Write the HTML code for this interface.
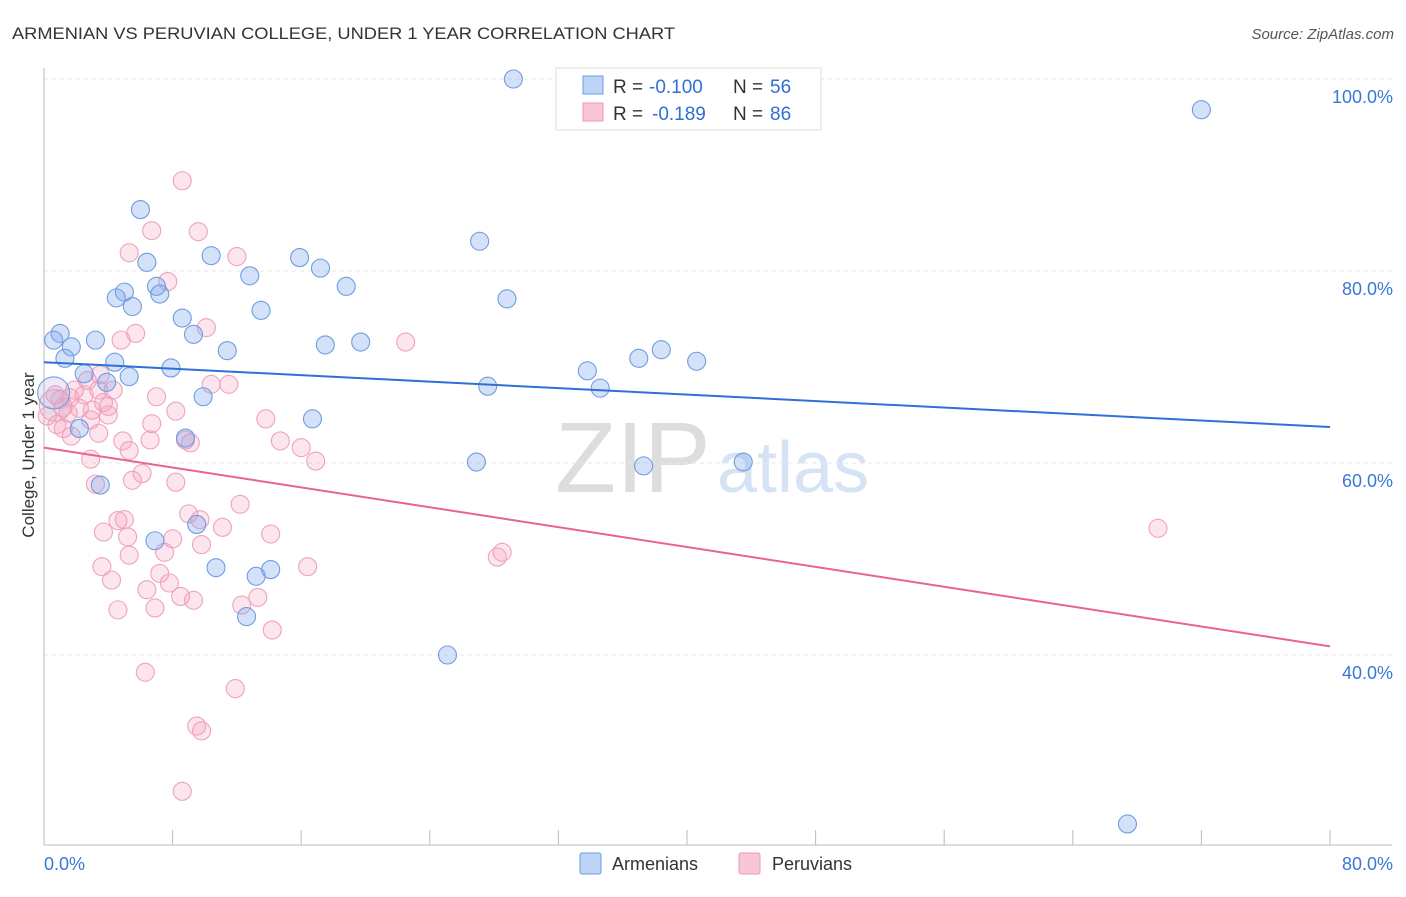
<!DOCTYPE html>
<html><head><meta charset="utf-8"><style>
body{margin:0;background:#fff;font-family:"Liberation Sans",sans-serif;}
svg text{font-family:"Liberation Sans",sans-serif;}
</style></head><body>
<svg width="1406" height="892" xmlns="http://www.w3.org/2000/svg">
<text x="12" y="39" font-size="17" fill="#333" textLength="663" lengthAdjust="spacingAndGlyphs">ARMENIAN VS PERUVIAN COLLEGE, UNDER 1 YEAR CORRELATION CHART</text>
<text x="1394" y="39" font-size="15" fill="#555" font-style="italic" text-anchor="end">Source: ZipAtlas.com</text>
<text x="555" y="492" font-size="100" fill="#ddd" font-family="Liberation Serif">ZIP</text>
<text x="717" y="492" font-size="72" fill="#d6e3f5">atlas</text>
<g id="grid"></g>
<g id="axes"></g>
<g id="marks"></g>
<text transform="translate(34,455) rotate(-90)" font-size="17" fill="#333" text-anchor="middle">College, Under 1 year</text>
<g>
<rect x="556" y="68" width="265" height="62" fill="#fff" stroke="#ddd"/>
<rect x="583" y="76" width="20" height="18" fill="#bcd4f5" stroke="#6f9de0"/>
<rect x="583" y="103" width="20" height="18" fill="#f9c6d6" stroke="#ea9ab5"/>
<text x="613" y="93" font-size="19" fill="#333">R =</text>
<text x="649" y="93" font-size="19" fill="#2f6fd6">-0.100</text>
<text x="733" y="93" font-size="19" fill="#333">N =</text>
<text x="770" y="93" font-size="19" fill="#2f6fd6">56</text>
<text x="613" y="120" font-size="19" fill="#333">R =</text>
<text x="652" y="120" font-size="19" fill="#2f6fd6">-0.189</text>
<text x="733" y="120" font-size="19" fill="#333">N =</text>
<text x="770" y="120" font-size="19" fill="#2f6fd6">86</text>
</g>
<g>
<rect x="580" y="853" width="21" height="21" fill="#bcd4f5" stroke="#6f9de0" rx="2"/>
<text x="612" y="870" font-size="18" fill="#333">Armenians</text>
<rect x="739" y="853" width="21" height="21" fill="#f9c6d6" stroke="#ea9ab5" rx="2"/>
<text x="772" y="870" font-size="18" fill="#333">Peruvians</text>
</g>
</svg>
<script>
const xTicks=[0,80];
const yTicks=[40,60,80,100];
const armX=[29.2,72.0,6.0,27.1,6.4,10.4,15.9,17.2,12.8,18.8,7.0,5.0,4.5,7.2,28.8,5.5,13.5,8.6,1.0,0.6,3.2,1.7,9.3,11.4,17.5,19.7,1.3,4.4,37.0,38.4,40.6,7.9,33.8,2.5,5.3,3.9,27.6,34.6,9.9,0.6,16.7,2.2,8.8,26.9,37.3,43.5,3.5,9.5,6.9,10.7,13.2,14.1,12.6,25.1,67.4];
const armY=[100.0,96.8,86.4,83.1,80.9,81.6,81.4,80.3,79.5,78.4,78.4,77.8,77.2,77.6,77.1,76.3,75.9,75.1,73.5,72.8,72.8,72.1,73.4,71.7,72.3,72.6,70.9,70.5,70.9,71.8,70.6,69.9,69.6,69.3,69.0,68.4,68.0,67.8,66.9,67.3,64.6,63.6,62.6,60.1,59.7,60.1,57.7,53.6,51.9,49.1,48.2,48.9,44.0,40.0,22.4];
const perX=[8.6,9.6,6.7,5.3,12.0,7.7,10.1,4.8,5.7,22.5,1.9,2.7,3.5,4.3,3.4,3.7,1.0,0.7,1.5,2.2,3.0,4.0,7.0,8.2,10.4,11.5,13.8,6.7,1.2,2.9,1.7,3.4,4.9,5.3,8.8,9.1,14.7,16.0,16.9,2.9,3.2,5.5,6.1,8.2,9.0,12.2,5.0,4.6,3.7,5.2,8.0,9.8,11.1,14.1,7.5,3.6,7.2,4.2,7.8,6.4,8.5,9.3,12.3,13.3,16.4,28.2,28.5,6.9,4.6,14.2,6.3,11.9,9.5,9.8,8.6,69.3,0.2,0.7,1.2,0.8,1.6,2.5,4.0,6.6,9.7,5.3];
const perY=[89.4,84.1,84.2,81.9,81.5,78.9,74.1,72.8,73.5,72.6,67.6,68.6,69.2,67.6,67.6,66.3,66.6,66.0,65.2,65.7,65.5,65.9,66.9,65.4,68.2,68.2,64.6,64.1,63.6,64.5,62.8,63.1,62.3,61.3,62.4,62.1,62.3,61.6,60.2,60.4,57.8,58.2,58.9,58.0,54.7,55.7,54.1,54.0,52.8,52.3,52.1,51.5,53.3,52.6,50.7,49.2,48.5,47.8,47.5,46.8,46.1,45.7,45.2,46.0,49.2,50.2,50.7,44.9,44.7,42.6,38.2,36.5,32.6,32.1,25.8,53.2,64.9,67.1,65.8,64.0,66.8,67.1,65.0,62.4,54.1,50.4];
const armTrend=[70.5,63.75];
const perTrend=[61.6,40.9];
const X=v=>44+v*16.075, Y=v=>79+(100-v)*9.6;
const NS='http://www.w3.org/2000/svg';
function mk(t,a,p){const e=document.createElementNS(NS,t);for(const k in a)e.setAttribute(k,a[k]);p.appendChild(e);return e;}
const grid=document.getElementById('grid'),axes=document.getElementById('axes'),marks=document.getElementById('marks');
yTicks.forEach(v=>{
 const l=mk('line',{x1:44,x2:1392,y1:Y(v),y2:Y(v),stroke:'#e6e6e6','stroke-dasharray':'4,4'},grid);
 
 
 const t=mk('text',{x:1393,y:Y(v)+24,'font-size':18,fill:'#3a78d8','text-anchor':'end'},axes);t.textContent=v.toFixed(1)+'%';
 
 
});
const ax=mk('line',{x1:44,x2:44,y1:68,y2:845,stroke:'#bbb'},axes);


const bx=mk('line',{x1:44,x2:1392,y1:845,y2:845,stroke:'#bbb'},axes);


for(let i=0;i<=10;i++){const tk=mk('line',{x1:X(i*8),x2:X(i*8),y1:830,y2:845,stroke:'#bbb'},axes);
 
 }
xTicks.forEach((v,i)=>{const t=mk('text',{x:i?1393:44,y:870,'font-size':18,fill:'#3a78d8','text-anchor':i?'end':'start'},axes);t.textContent=v.toFixed(1)+'%';
 
 });
function pts(xs,ys,fill,stroke,name){xs.forEach((x,i)=>{
 const big=(x<=0.7&&(ys[i]===67.3||ys[i]===66.0));
 const c=mk('circle',{cx:X(x),cy:Y(ys[i]),r:big?16:9,fill:big?'rgba(180,170,220,0.25)':fill,stroke:stroke,'stroke-width':1.1},marks);
 
 });}
pts(perX,perY,'rgba(244,160,190,0.28)','#eea3bd','peruvian-point');
pts(armX,armY,'rgba(120,165,235,0.32)','#6f9de0','armenian-point');
const l1=mk('line',{x1:X(0),x2:X(80),y1:Y(armTrend[0]),y2:Y(armTrend[1]),stroke:'#2f6fd6','stroke-width':2},marks);


const l2=mk('line',{x1:X(0),x2:X(80),y1:Y(perTrend[0]),y2:Y(perTrend[1]),stroke:'#e8648f','stroke-width':2},marks);


</script>
</body></html>
